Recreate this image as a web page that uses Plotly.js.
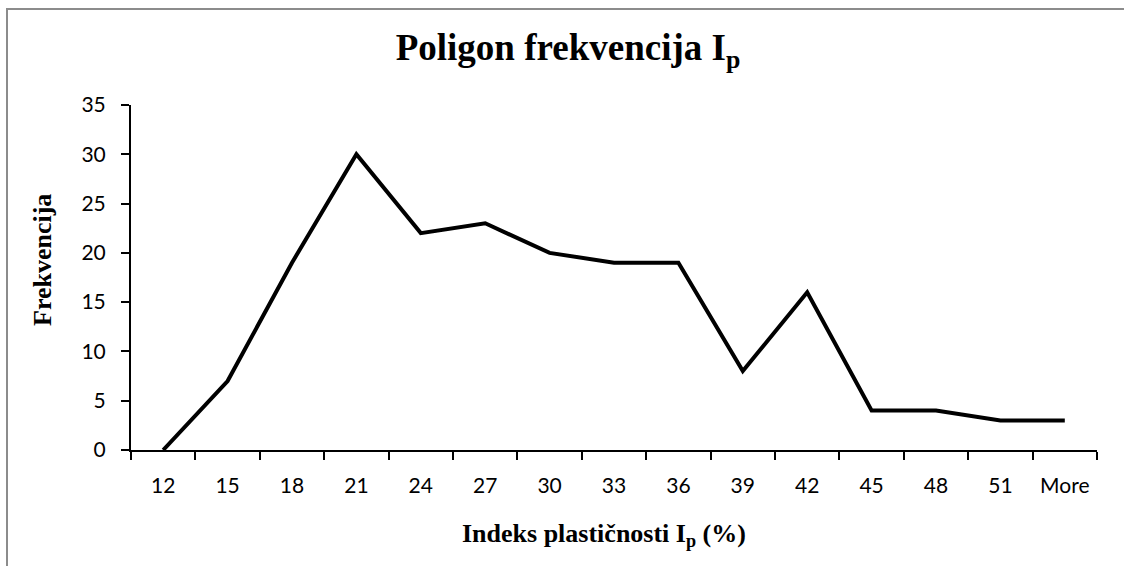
<!DOCTYPE html>
<html>
<head>
<meta charset="utf-8">
<script src="https://cdn.plot.ly/plotly-3.0.1.min.js"></script>
<style>
  html, body { margin: 0; padding: 0; background: #fff; }
  #wrap { position: relative; width: 1124px; height: 566px; overflow: hidden; }
  #chart { position: absolute; left: 0; top: 0; width: 1124px; height: 566px; }
  #frame { position: absolute; left: 6px; top: 8px; width: 1200px; height: 700px;
           border-left: 2px solid #8c8c8c; border-top: 2px solid #8c8c8c; pointer-events: none; }
</style>
</head>
<body>
<div id="wrap">
  <div id="chart"></div>
  <div id="frame"></div>
</div>
<script>
const categories = ["12", "15", "18", "21", "24", "27", "30", "33", "36", "39", "42", "45", "48", "51", "More"];
const frequencies = [0, 7, 19, 30, 22, 23, 20, 19, 19, 8, 16, 4, 4, 3, 3];
const yTicks = [0, 5, 10, 15, 20, 25, 30, 35];

const serif = "Liberation Serif, Times New Roman, serif";
const sans = "Lato, Open Sans, sans-serif";

const trace = {
  x: categories,
  y: frequencies,
  type: "scatter",
  mode: "lines",
  line: { color: "#000000", width: 4 },
  hoverinfo: "x+y"
};

const layout = {
  width: 1124,
  height: 566,
  margin: { l: 131, r: 27, t: 105, b: 116 },
  paper_bgcolor: "rgba(0,0,0,0)",
  plot_bgcolor: "rgba(0,0,0,0)",
  showlegend: false,
  title: {
    text: "<b>Poligon frekvencija I<sub>p</sub></b>",
    font: { family: serif, size: 37, color: "#000" },
    x: 568 / 1124, xanchor: "center", xref: "container",
    y: 1 - 47 / 566, yanchor: "middle", yref: "container"
  },
  xaxis: {
    type: "category",
    categoryorder: "array",
    categoryarray: categories,
    range: [-0.5, categories.length - 0.5],
    tickson: "boundaries",
    ticks: "outside",
    ticklen: 8,
    tickwidth: 2,
    tickcolor: "#000",
    showline: true,
    linecolor: "#000",
    linewidth: 2,
    showgrid: false,
    zeroline: false,
    ticklabelstandoff: 16,
    tickfont: { family: sans, size: 21, color: "#000" },
    fixedrange: true
  },
  yaxis: {
    range: [0, 35],
    tickvals: yTicks,
    ticktext: yTicks.map(String),
    ticks: "outside",
    ticklen: 8,
    tickwidth: 2,
    tickcolor: "#000",
    showline: true,
    linecolor: "#000",
    linewidth: 2,
    showgrid: false,
    zeroline: false,
    ticklabelstandoff: 11,
    tickfont: { family: sans, size: 21, color: "#000" },
    fixedrange: true
  },
  annotations: [
    {
      text: "<b>Indeks plastičnosti I<sub>p</sub> (%)</b>",
      xref: "paper", yref: "paper",
      x: (604 - 131) / 966, y: -(535 - 450) / 345,
      xanchor: "center", yanchor: "middle",
      showarrow: false,
      font: { family: serif, size: 26, color: "#000" }
    },
    {
      text: "<b>Frekvencija</b>",
      xref: "paper", yref: "paper",
      x: -(131 - 42) / 966, y: (450 - 260) / 345,
      xanchor: "center", yanchor: "middle",
      textangle: -90,
      showarrow: false,
      font: { family: serif, size: 26, color: "#000" }
    }
  ]
};

Plotly.newPlot("chart", [trace], layout, { displayModeBar: false, staticPlot: false });
</script>
</body>
</html>
